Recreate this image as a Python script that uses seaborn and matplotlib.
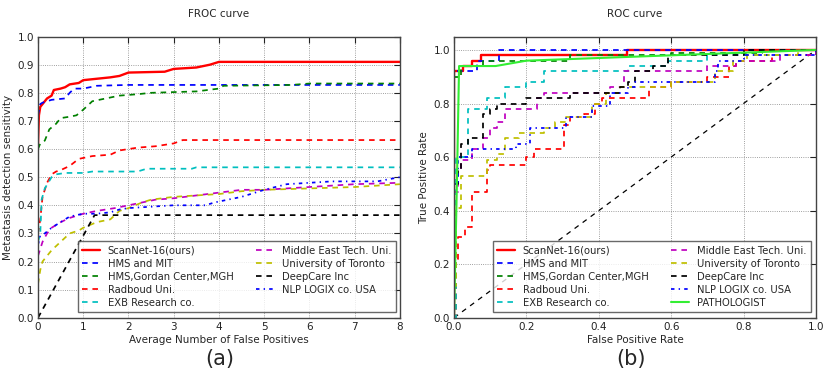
import seaborn as sns
import matplotlib.pyplot as plt
import numpy as np

# ---- FROC data (avg false positives, sensitivity) ----
froc_scannet_x = [0, 0.02, 0.05, 0.1, 0.2, 0.3, 0.35, 0.5, 0.6, 0.7, 0.9, 1.0, 1.3, 1.6, 1.8, 2.0, 2.8, 3.0, 3.5, 3.8, 4.0, 8]
froc_scannet_y = [0.62, 0.72, 0.75, 0.76, 0.78, 0.79, 0.81, 0.815, 0.82, 0.83, 0.835, 0.845, 0.85, 0.855, 0.86, 0.872, 0.875, 0.885, 0.89, 0.90, 0.91, 0.91]
froc_hmsmit_x = [0, 0.05, 0.1, 0.3, 0.6, 0.7, 0.8, 1.0, 1.3, 2.0, 8]
froc_hmsmit_y = [0.72, 0.76, 0.765, 0.775, 0.78, 0.80, 0.815, 0.815, 0.825, 0.828, 0.828]
froc_gordan_x = [0, 0.05, 0.15, 0.25, 0.4, 0.5, 0.7, 0.85, 1.0, 1.2, 1.5, 1.8, 2.2, 2.5, 3.5, 4.0, 4.1, 5.6, 6.0, 8]
froc_gordan_y = [0.6, 0.62, 0.63, 0.67, 0.69, 0.71, 0.715, 0.72, 0.74, 0.77, 0.78, 0.79, 0.795, 0.80, 0.805, 0.815, 0.825, 0.828, 0.833, 0.833]
froc_radboud_x = [0, 0.05, 0.1, 0.2, 0.3, 0.4, 0.5, 0.7, 0.9, 1.2, 1.6, 1.8, 2.2, 2.6, 3.0, 3.2, 8]
froc_radboud_y = [0.3, 0.35, 0.43, 0.48, 0.51, 0.52, 0.525, 0.54, 0.565, 0.575, 0.58, 0.595, 0.605, 0.61, 0.62, 0.632, 0.632]
froc_exb_x = [0, 0.05, 0.08, 0.15, 0.3, 0.4, 0.6, 1.0, 1.2, 2.2, 2.4, 3.4, 3.5, 8]
froc_exb_y = [0.27, 0.3, 0.42, 0.46, 0.5, 0.51, 0.515, 0.515, 0.52, 0.52, 0.53, 0.53, 0.535, 0.535]
froc_metu_x = [0, 0.1, 0.2, 0.3, 0.5, 0.7, 1.0, 1.3, 1.7, 2.0, 2.3, 2.6, 3.0, 3.5, 4.0, 4.5, 5.0, 5.5, 6.0, 7.0, 8]
froc_metu_y = [0.22, 0.27, 0.3, 0.32, 0.34, 0.355, 0.37, 0.38, 0.39, 0.40, 0.41, 0.42, 0.425, 0.435, 0.445, 0.455, 0.455, 0.46, 0.465, 0.475, 0.48]
froc_toronto_x = [0, 0.05, 0.1, 0.3, 0.5, 0.7, 0.9, 1.0, 1.3, 1.6, 1.8, 2.0, 2.3, 2.5, 3.0, 3.5, 4.0, 4.5, 5.0, 6.0, 7.0, 8]
froc_toronto_y = [0.12, 0.17, 0.2, 0.24, 0.27, 0.3, 0.31, 0.32, 0.34, 0.35, 0.38, 0.39, 0.41, 0.42, 0.43, 0.435, 0.44, 0.45, 0.455, 0.46, 0.465, 0.475]
froc_deepcare_x = [0, 1.25, 8]
froc_deepcare_y = [0, 0.365, 0.365]
froc_nlp_x = [0, 0.05, 0.15, 0.3, 0.5, 0.7, 1.0, 1.3, 1.6, 1.8, 2.0, 2.5, 3.0, 3.7, 3.9, 4.2, 4.5, 4.8, 5.0, 5.5, 6.0, 6.5, 7.5, 8]
froc_nlp_y = [0.26, 0.29, 0.3, 0.32, 0.34, 0.36, 0.37, 0.37, 0.375, 0.385, 0.39, 0.395, 0.40, 0.40, 0.41, 0.42, 0.43, 0.445, 0.455, 0.475, 0.48, 0.485, 0.485, 0.50]

# ---- ROC data (fpr, tpr) step points ----
roc_scannet_x = [0, 0, 0.024, 0.05, 0.074, 0.477, 1.0]
roc_scannet_y = [0, 0.92, 0.94, 0.96, 0.98, 1.0, 1.0]
roc_hmsmit_x = [0, 0, 0.063, 0.125, 1.0]
roc_hmsmit_y = [0, 0.92, 0.96, 1.0, 1.0]
roc_gordan_x = [0, 0, 0.02, 0.08, 0.32, 0.6, 0.85, 1.0]
roc_gordan_y = [0, 0.9, 0.94, 0.96, 0.98, 0.99, 1.0, 1.0]
roc_radboud_x = [0, 0.005, 0.01, 0.03, 0.05, 0.09, 0.1, 0.2, 0.22, 0.305, 0.32, 0.36, 0.39, 0.41, 0.54, 0.6, 0.7, 0.76, 0.78, 0.88, 1.0, 1.0]
roc_radboud_y = [0, 0.22, 0.30, 0.34, 0.47, 0.55, 0.57, 0.60, 0.63, 0.72, 0.75, 0.76, 0.80, 0.82, 0.86, 0.88, 0.90, 0.94, 0.96, 0.98, 0.98, 1.0]
roc_exb_x = [0, 0.005, 0.04, 0.09, 0.14, 0.2, 0.25, 0.48, 0.59, 0.7, 0.9, 1.0]
roc_exb_y = [0, 0.6, 0.78, 0.82, 0.86, 0.88, 0.92, 0.94, 0.96, 0.98, 1.0, 1.0]
roc_metu_x = [0, 0, 0.01, 0.02, 0.05, 0.08, 0.1, 0.12, 0.14, 0.23, 0.25, 0.43, 0.47, 0.7, 0.78, 0.9, 1.0]
roc_metu_y = [0, 0.47, 0.55, 0.59, 0.63, 0.67, 0.71, 0.73, 0.78, 0.82, 0.84, 0.86, 0.92, 0.94, 0.96, 0.98, 1.0]
roc_toronto_x = [0, 0, 0.005, 0.02, 0.09, 0.12, 0.14, 0.18, 0.25, 0.28, 0.31, 0.38, 0.42, 0.46, 0.6, 0.72, 0.77, 0.81, 0.95, 1.0]
roc_toronto_y = [0, 0.12, 0.41, 0.53, 0.59, 0.61, 0.67, 0.69, 0.71, 0.73, 0.75, 0.80, 0.84, 0.86, 0.88, 0.92, 0.96, 0.98, 1.0, 1.0]
roc_deepcare_x = [0, 0, 0.01, 0.02, 0.04, 0.08, 0.1, 0.12, 0.2, 0.32, 0.46, 0.48, 0.5, 0.55, 0.59, 0.8, 1.0]
roc_deepcare_y = [0, 0.5, 0.55, 0.65, 0.67, 0.76, 0.78, 0.80, 0.82, 0.84, 0.86, 0.88, 0.92, 0.94, 0.98, 1.0, 1.0]
roc_nlp_x = [0, 0, 0.01, 0.05, 0.17, 0.21, 0.31, 0.38, 0.43, 0.48, 0.5, 0.72, 0.73, 0.8, 1.0]
roc_nlp_y = [0, 0.5, 0.6, 0.63, 0.65, 0.71, 0.75, 0.79, 0.84, 0.86, 0.88, 0.92, 0.96, 0.98, 1.0]
roc_path_x = [0, 0.008, 0.014, 0.115, 0.2, 0.6, 1.0]
roc_path_y = [0, 0.5, 0.94, 0.94, 0.96, 0.98, 1.0]

names = ["ScanNet-16(ours)", "HMS and MIT", "HMS,Gordan Center,MGH", "Radboud Uni.",
         "EXB Research co.", "Middle East Tech. Uni.", "University of Toronto",
         "DeepCare Inc", "NLP LOGIX co. USA"]
colors = ["red", "blue", "green", "red", "c", "m", "y", "k", "blue"]
# dash patterns are in units of linewidth (scaled by matplotlib)
dashes = [None, (3.2, 2.8), (3.2, 2.8), (3.2, 2.8), (3.2, 2.8), (3.2, 2.8), (3.2, 2.8), (3.2, 2.8), (2, 2.4, 0.8, 2.4)]

froc = [(froc_scannet_x, froc_scannet_y), (froc_hmsmit_x, froc_hmsmit_y),
        (froc_gordan_x, froc_gordan_y), (froc_radboud_x, froc_radboud_y),
        (froc_exb_x, froc_exb_y), (froc_metu_x, froc_metu_y),
        (froc_toronto_x, froc_toronto_y), (froc_deepcare_x, froc_deepcare_y),
        (froc_nlp_x, froc_nlp_y)]
roc = [(roc_scannet_x, roc_scannet_y), (roc_hmsmit_x, roc_hmsmit_y),
       (roc_gordan_x, roc_gordan_y), (roc_radboud_x, roc_radboud_y),
       (roc_exb_x, roc_exb_y), (roc_metu_x, roc_metu_y),
       (roc_toronto_x, roc_toronto_y), (roc_deepcare_x, roc_deepcare_y),
       (roc_nlp_x, roc_nlp_y)]

sns.set_style("white")
plt.rcParams['font.family'] = ['DejaVu Sans']
plt.rcParams['font.size'] = 7.5

fig = plt.figure(figsize=(8.3, 3.81), dpi=100)
ax1 = fig.add_axes([0.0458, 0.166, 0.436, 0.738])
ax2 = fig.add_axes([0.547, 0.166, 0.436, 0.738])

legend_kw = dict(loc="lower right", ncol=2, fontsize=7.2, frameon=True, fancybox=False,
                 edgecolor="#444444", handlelength=1.8, handletextpad=0.75,
                 columnspacing=2.3, labelspacing=0.3, borderpad=0.45, borderaxespad=0)


def style_axes(ax):
    ax.grid(True, color="gray", linestyle=":", linewidth=0.6)
    ax.tick_params(direction="in", top=True, right=True, length=4, labelsize=7.5,
                   pad=3, colors="#222222")
    for s in ax.spines.values():
        s.set_color("#444444")
        s.set_linewidth(1.0)


for i, (xs, ys) in enumerate(froc):
    lw = 1.7 if i == 0 else 1.25
    sns.lineplot(x=xs, y=ys, ax=ax1, color=colors[i], linewidth=lw, sort=False,
                 estimator=None, label=names[i])
    if dashes[i] is not None:
        ax1.lines[-1].set_dashes(dashes[i])

ax1.set_xlim(0, 8)
ax1.set_ylim(0, 1.0)
ax1.set_xticks(range(0, 9))
ax1.set_yticks(np.arange(0, 1.01, 0.1))
ax1.set_yticklabels([f"{v:.1f}" for v in np.arange(0, 1.01, 0.1)])
ax1.set_title("FROC curve", fontsize=7.5, pad=14)
ax1.set_xlabel("Average Number of False Positives", fontsize=7.5, labelpad=2)
ax1.set_ylabel("Metastasis detection sensitivity", fontsize=7.5, labelpad=3)
style_axes(ax1)
ax1.legend(bbox_to_anchor=(0.989, 0.019), **legend_kw)

# diagonal reference
sns.lineplot(x=[0, 1], y=[0, 1], ax=ax2, color="k", linewidth=0.9, sort=False)
ax2.lines[-1].set_dashes((4, 4))
for i, (xs, ys) in enumerate(roc):
    lw = 1.7 if i == 0 else 1.25
    sns.lineplot(x=xs, y=ys, ax=ax2, color=colors[i], linewidth=lw, sort=False,
                 estimator=None, label=names[i], drawstyle="steps-post")
    if dashes[i] is not None:
        ax2.lines[-1].set_dashes(dashes[i])
sns.lineplot(x=roc_path_x, y=roc_path_y, ax=ax2, color="#33ee33", linewidth=1.5,
             sort=False, estimator=None, label="PATHOLOGIST")

ax2.set_xlim(0, 1.0)
ax2.set_ylim(0, 1.05)
ax2.set_xticks(np.arange(0, 1.01, 0.2))
ax2.set_xticklabels([f"{v:.1f}" for v in np.arange(0, 1.01, 0.2)])
ax2.set_yticks(np.arange(0, 1.01, 0.2))
ax2.set_yticklabels([f"{v:.1f}" for v in np.arange(0, 1.01, 0.2)])
ax2.set_title("ROC curve", fontsize=7.5, pad=14)
ax2.set_xlabel("False Positive Rate", fontsize=7.5, labelpad=2)
ax2.set_ylabel("True Positive Rate", fontsize=7.5, labelpad=3)
style_axes(ax2)
ax2.legend(bbox_to_anchor=(0.986, 0.019), **legend_kw)

fig.text(0.265, 0.058, "(a)", fontsize=15, ha="center", va="center")
fig.text(0.76, 0.058, "(b)", fontsize=15, ha="center", va="center")

fig.savefig("out.png", dpi=100)
plt.close(fig)
